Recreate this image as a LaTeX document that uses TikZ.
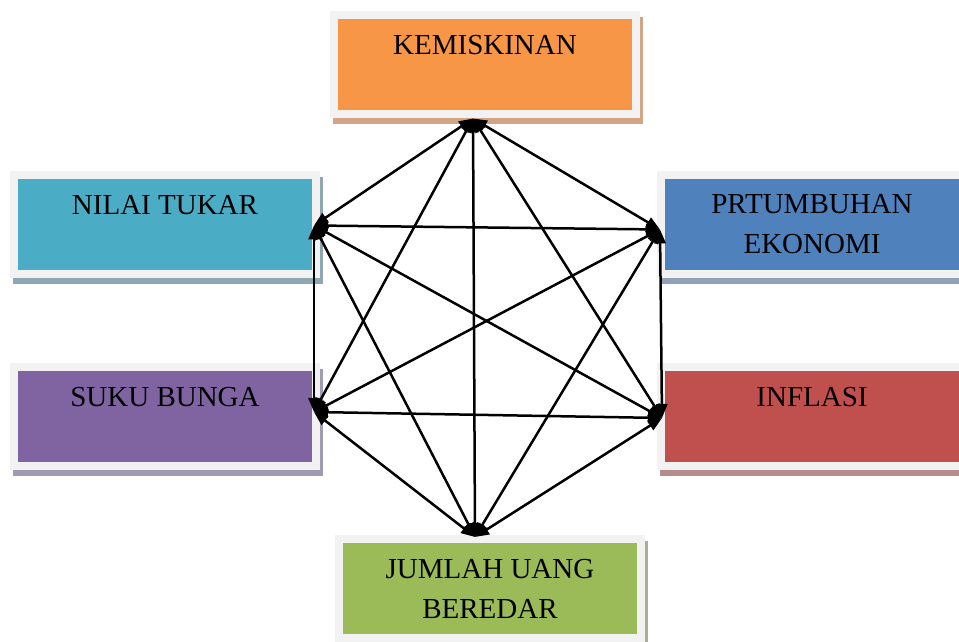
\documentclass[tikz,border=0pt]{standalone}
\usepackage{fontspec}
\setmainfont{Liberation Serif}
\usetikzlibrary{arrows.meta,shadows}

\definecolor{framegray}{HTML}{F2F2F2}
\definecolor{kemcol}{HTML}{F79646}
\definecolor{nilcol}{HTML}{4BACC6}
\definecolor{prtcol}{HTML}{4F81BD}
\definecolor{sukcol}{HTML}{8064A2}
\definecolor{infcol}{HTML}{C0504D}
\definecolor{jumcol}{HTML}{9BBB59}
\definecolor{kemshd}{RGB}{210,166,132}
\definecolor{nilshd}{RGB}{143,167,178}
\definecolor{prtshd}{RGB}{146,160,184}
\definecolor{sukshd}{RGB}{160,155,176}
\definecolor{infshd}{RGB}{180,140,140}
\definecolor{jumshd}{RGB}{168,176,148}

\begin{document}
\begin{tikzpicture}[x=1pt,y=1pt,
		factor/.style={draw=framegray, line width=8pt, fill=#1col,
			minimum width=302pt, minimum height=99pt,
			align=center, font=\fontsize{29}{40}\selectfont,
			drop shadow={shadow xshift=3pt, shadow yshift=-6pt,
				fill=#1shd, draw=#1shd, line width=8pt, opacity=1}},
		link/.style={line width=2.5pt,
			{Triangle[length=14pt,width=11pt]}-{Triangle[length=14pt,width=11pt]}}]
	\useasboundingbox (0,0) rectangle (959,642);

	% boxes
	\node[factor=kem] (kem) at (485,577) {KEMISKINAN\\~};
	\node[factor=nil] (nil) at (165,417.5) {NILAI TUKAR\\~};
	\node[factor=prt] (prt) at (812,417.5) {PRTUMBUHAN\\EKONOMI};
	\node[factor=suk] (suk) at (165,225) {SUKU BUNGA\\~};
	\node[factor=inf] (inf) at (812,225) {INFLASI\\~};
	\node[factor=jum] (jum) at (490,53.5) {JUMLAH UANG\\BEREDAR};

	% meeting points of the arrows
	\coordinate (kemP) at ([xshift=-12pt]kem.south);
	\coordinate (nilP) at ([shift={(-6pt,-1pt)}]nil.east);
	\coordinate (prtP) at ([shift={(3pt,-5pt)}]prt.west);
	\coordinate (sukP) at ([shift={(-6pt,5pt)}]suk.east);
	\coordinate (infP) at ([shift={(5pt,-1pt)}]inf.west);
	\coordinate (jumP) at ([shift={(-15pt,-2pt)}]jum.north);

	% every factor linked to every other
	\draw[link] (kemP) -- (nilP);
	\draw[link] (kemP) -- (prtP);
	\draw[link] (kemP) -- (sukP);
	\draw[link] (kemP) -- (infP);
	\draw[link] (kemP) -- (jumP);
	\draw[link] (nilP) -- (prtP);
	\draw[link] (nilP) -- (sukP);
	\draw[link] (nilP) -- (infP);
	\draw[link] (nilP) -- (jumP);
	\draw[link] (prtP) -- (sukP);
	\draw[link] (prtP) -- (infP);
	\draw[link] (prtP) -- (jumP);
	\draw[link] (sukP) -- (infP);
	\draw[link] (sukP) -- (jumP);
	\draw[link] (infP) -- (jumP);
\end{tikzpicture}
\end{document}
